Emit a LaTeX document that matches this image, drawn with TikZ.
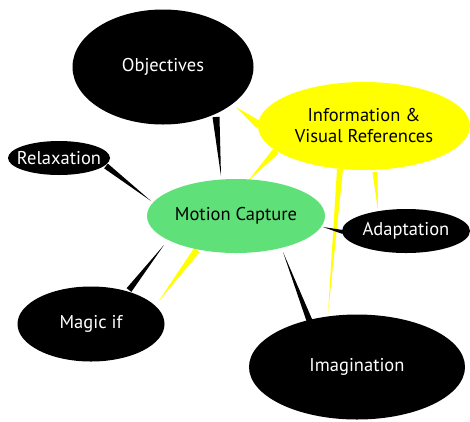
\documentclass[tikz,border=0pt]{standalone}
\usepackage{fontspec}
\setmainfont{PT Sans}
\usetikzlibrary{shapes.geometric,calc}
\definecolor{mcgreen}{RGB}{96,224,120}
\definecolor{infoyellow}{RGB}{255,255,0}
\tikzset{
  bubble/.style={ellipse, inner sep=0pt, font=\fontsize{18.5}{21}\selectfont, align=center},
  darkbubble/.style={bubble, fill=black, text=white},
  greenbubble/.style={bubble, fill=mcgreen, text=black},
  yellowbubble/.style={bubble, fill=infoyellow, text=black},
  slim/.style={inner xsep=-16pt},
}
% tapered connector: wide end #1, thin tip #2, half-width #3, colour #4
\newcommand{\taperlink}[4]{%
  \fill[#4] ($(#1)!#3!90:(#2)$) -- ($(#1)!#3!-90:(#2)$) -- (#2) -- cycle;}
\begin{document}
\begin{tikzpicture}[x=1pt,y=-1pt]
\useasboundingbox (0,0) rectangle (470,421);
% connector end points
\coordinate (omw) at (216,117);  \coordinate (omt) at (221,176);
\coordinate (oit) at (236,107);  \coordinate (oiw) at (259,125);
\coordinate (rmw) at (106,166);  \coordinate (rmt) at (151,201);
\coordinate (imw) at (276,151);  \coordinate (imt) at (248,181);
\coordinate (iiw) at (340,169);  \coordinate (iit) at (328,314);
\coordinate (iaw) at (375,172);  \coordinate (iat) at (378,211);
\coordinate (mat) at (323,227);  \coordinate (maw) at (343,232);
\coordinate (mgt) at (164,245);  \coordinate (mgw) at (129,290);
\coordinate (myw) at (197,250);  \coordinate (myt) at (158,302);
\coordinate (mit) at (283,252);  \coordinate (miw) at (310,322);
% connectors
\taperlink{omw}{omt}{3.5pt}{black}
\taperlink{oiw}{oit}{4pt}{infoyellow}
\taperlink{rmw}{rmt}{3pt}{black}
\taperlink{imw}{imt}{3.5pt}{infoyellow}
\taperlink{iiw}{iit}{3pt}{infoyellow}
\taperlink{iaw}{iat}{2.5pt}{infoyellow}
\taperlink{maw}{mat}{2pt}{black}
\taperlink{mgw}{mgt}{3pt}{black}
\taperlink{myw}{myt}{3.5pt}{infoyellow}
\taperlink{miw}{mit}{3pt}{black}
% nodes
\node[darkbubble, minimum width=181pt, minimum height=115pt] (obj) at (163,67) {Objectives};
\node[yellowbubble, minimum width=212pt, minimum height=88pt] (info) at (364,126) {Information \&\\Visual References};
\node[darkbubble, slim, minimum width=102pt, minimum height=34pt] (relax) at (59,158) {Relaxation};
\node[greenbubble, minimum width=178pt, minimum height=74pt] (mc) at (236,216) {Motion Capture};
\node[darkbubble, slim, minimum width=128pt, minimum height=44pt] (adapt) at (406,231) {Adaptation};
\node[darkbubble, minimum width=147pt, minimum height=75pt] (magic) at (91,324) {Magic if};
\node[darkbubble, minimum width=216pt, minimum height=105pt] (imag) at (357,367) {Imagination};
\end{tikzpicture}
\end{document}
